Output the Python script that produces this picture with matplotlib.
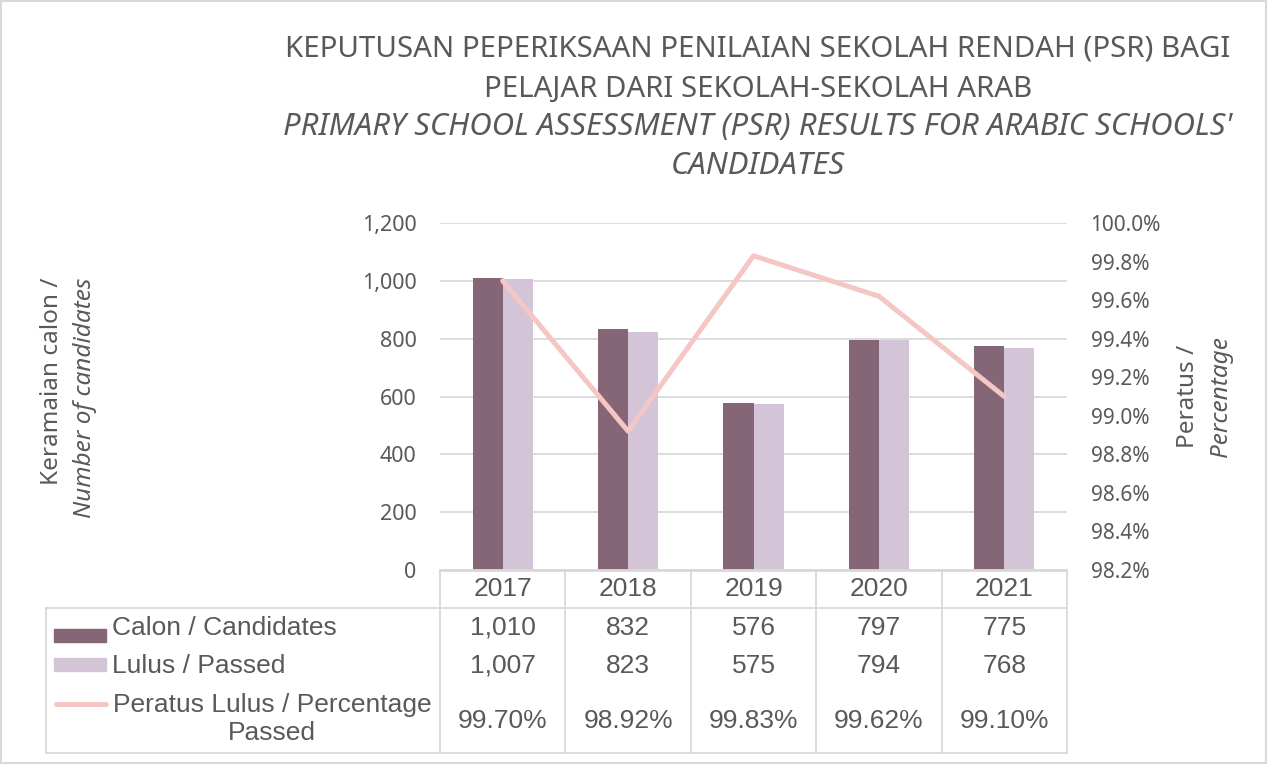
import matplotlib
matplotlib.use("Agg")
import matplotlib.pyplot as plt
from matplotlib.patches import Rectangle
from matplotlib.lines import Line2D
import numpy as np

years = ["2017", "2018", "2019", "2020", "2021"]
candidates = [1010, 832, 576, 797, 775]
passed = [1007, 823, 575, 794, 768]
percent = [99.70, 98.92, 99.83, 99.62, 99.10]

label_cand = "Calon / Candidates"
label_pass = "Lulus / Passed"
label_pct = "Peratus Lulus / Percentage\nPassed"

c_dark = "#856677"
c_light = "#D3C4D7"
c_line = "#F4C7C5"
c_text = "#595959"
c_grid = "#D9D9D9"

W, H = 1268, 765
fig = plt.figure(figsize=(W / 100, H / 100), dpi=100)

# plot area in pixels
AX_L, AX_R, AX_T, AX_B = 440, 1067, 223, 570
ax = fig.add_axes([AX_L / W, 1 - AX_B / H, (AX_R - AX_L) / W, (AX_B - AX_T) / H])

x = np.arange(len(years))
bw = 0.24
ax.bar(x - bw / 2, candidates, bw, color=c_dark, zorder=2)
ax.bar(x + bw / 2, passed, bw, color=c_light, zorder=2)
ax.set_xlim(-0.5, len(years) - 0.5)
ax.set_ylim(0, 1200)
ax.set_yticks(range(0, 1201, 200))
ax.set_yticklabels([f"{v:,}" for v in range(0, 1201, 200)])
ax.set_xticks([])
ax.grid(axis="y", color=c_grid, linewidth=1.3, zorder=0)
ax.set_axisbelow(True)
for s in ["left", "right", "top"]:
    ax.spines[s].set_visible(False)
ax.spines["bottom"].set_color(c_grid)
ax.spines["bottom"].set_linewidth(1.3)
ax.tick_params(axis="y", length=0, pad=17, labelsize=15.5, labelcolor=c_text)
for t in ax.get_yticklabels():
    t.set_family("Noto Sans")

ax2 = ax.twinx()
ax2.plot(x, percent, color=c_line, linewidth=3.6, solid_capstyle="round", zorder=3)
ax2.set_ylim(98.2, 100.0)
pct_ticks = np.round(np.arange(98.2, 100.01, 0.2), 1)
ax2.set_yticks(pct_ticks)
ax2.set_yticklabels([f"{v:.1f}%" for v in pct_ticks])
ax2.tick_params(axis="y", length=0, pad=17, labelsize=15, labelcolor=c_text)
for t in ax2.get_yticklabels():
    t.set_family("Noto Sans")
for s in ax2.spines.values():
    s.set_visible(False)

# overlay in pixel coordinates for title, axis titles and data table
ov = fig.add_axes([0, 0, 1, 1], zorder=5)
ov.set_xlim(0, W)
ov.set_ylim(H, 0)
ov.axis("off")
ov.patch.set_alpha(0)

title_lines = [
    ("KEPUTUSAN PEPERIKSAAN PENILAIAN SEKOLAH RENDAH (PSR) BAGI", "normal", 21.2, 56),
    ("PELAJAR DARI SEKOLAH-SEKOLAH ARAB", "normal", 21.2, 97),
    ("PRIMARY SCHOOL ASSESSMENT (PSR) RESULTS FOR ARABIC SCHOOLS'", "italic", 22.4, 135),
    ("CANDIDATES", "italic", 22.4, 174),
]
for txt, style, fs, yb in title_lines:
    ov.text(758, yb, txt, ha="center", va="baseline", fontsize=fs,
            family="Noto Sans", style=style, color=c_text)

ov.text(52, 278, "Keramaian calon /", rotation=90, ha="center", va="top",
        fontsize=17.5, family="Noto Sans", color=c_text)
ov.text(85, 278, "Number of candidates", rotation=90, ha="center", va="top",
        fontsize=17.5, family="Noto Sans", style="italic", color=c_text)
ov.text(1188, 396, "Peratus /", rotation=90, ha="center", va="center",
        fontsize=17.5, family="Noto Sans", color=c_text)
ov.text(1221, 397, "Percentage", rotation=90, ha="center", va="center",
        fontsize=17.5, family="Noto Sans", style="italic", color=c_text)

# data table
col_w = (AX_R - AX_L) / len(years)
T_TOP, T_ROW1, T_BOT, LEG_L = 571, 608, 753, 46
lc = dict(color=c_grid, linewidth=1.3)
ov.add_line(Line2D([AX_L, AX_R], [T_TOP, T_TOP], **lc))
ov.add_line(Line2D([LEG_L, AX_R], [T_ROW1, T_ROW1], **lc))
ov.add_line(Line2D([LEG_L, AX_R], [T_BOT, T_BOT], **lc))
ov.add_line(Line2D([LEG_L, LEG_L], [T_ROW1, T_BOT], **lc))
for i in range(len(years) + 1):
    xe = AX_L + i * col_w
    ov.add_line(Line2D([xe, xe], [T_TOP, T_BOT], **lc))

tk = dict(ha="center", va="center", fontsize=19, family="Liberation Sans", color=c_text)
for i, yr in enumerate(years):
    xc = AX_L + (i + 0.5) * col_w
    ov.text(xc, 589, yr, **tk)
    ov.text(xc, 628, f"{candidates[i]:,}", **tk)
    ov.text(xc, 666, f"{passed[i]:,}", **tk)
    ov.text(xc, 721, f"{percent[i]:.2f}%", **tk)

ov.add_patch(Rectangle((54, 629), 52, 13, color=c_dark))
ov.add_patch(Rectangle((54, 658), 52, 13, color=c_light))
ov.add_line(Line2D([56, 106], [704, 704], color=c_line, linewidth=3.6, solid_capstyle="round"))
ov.text(112, 628, label_cand, ha="left", va="center", fontsize=19,
        family="Liberation Sans", color=c_text)
ov.text(112, 666, label_pass, ha="left", va="center", fontsize=19,
        family="Liberation Sans", color=c_text)
ov.text(272, 719, label_pct, ha="center", va="center", fontsize=19,
        family="Liberation Sans", color=c_text, multialignment="center",
        linespacing=1.25)

# chart border
ov.add_patch(Rectangle((1, 1), W - 3, H - 3, fill=False, edgecolor=c_grid, linewidth=1.5))

fig.savefig("out.png", dpi=100)
